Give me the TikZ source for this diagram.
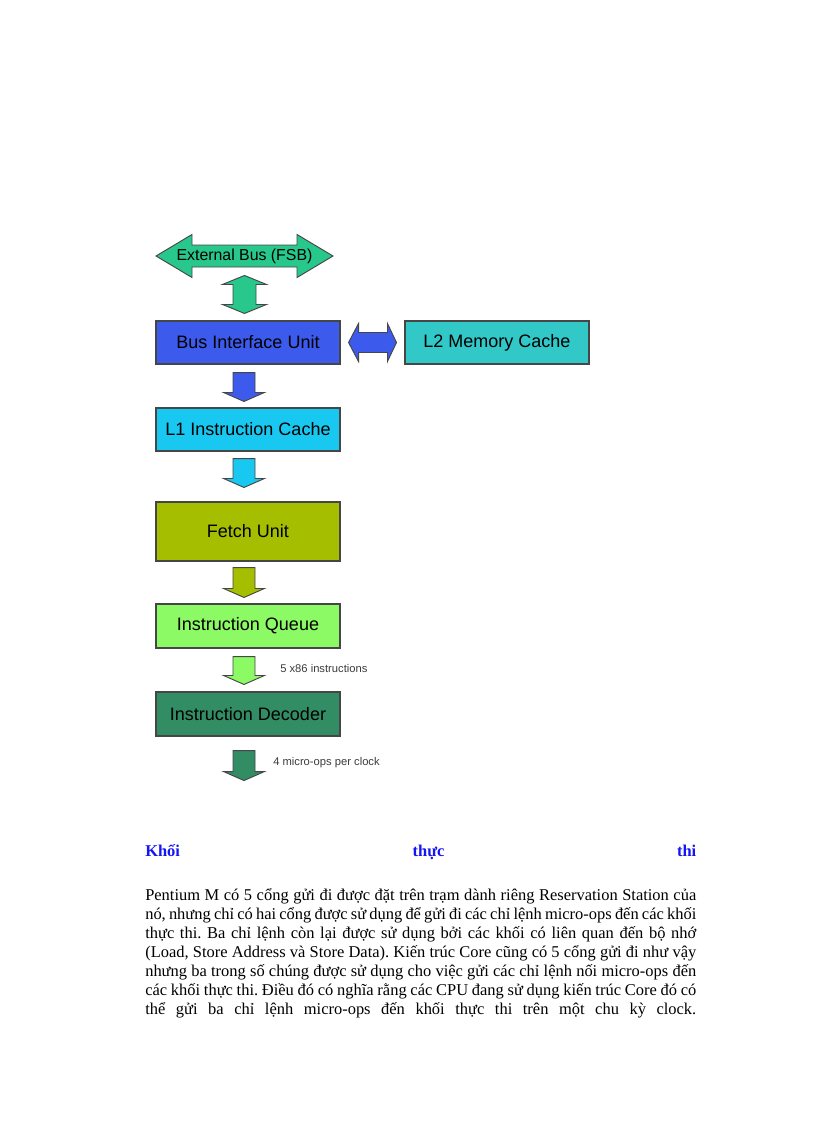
\documentclass[tikz,border=0pt]{standalone}
\usepackage{fontspec}
\setmainfont{Liberation Serif}
\newfontfamily\arialfont{Liberation Sans}
\usetikzlibrary{calc}
\frenchspacing
\definecolor{fsbgreen}{RGB}{40,200,140}
\definecolor{biublue}{RGB}{60,90,235}
\definecolor{l2teal}{RGB}{50,200,200}
\definecolor{l1cyan}{RGB}{25,200,240}
\definecolor{fetcholive}{RGB}{165,190,0}
\definecolor{iqgreen}{RGB}{140,250,100}
\definecolor{decgreen}{RGB}{50,140,100}
\definecolor{titleblue}{RGB}{20,20,245}
\definecolor{edgegray}{RGB}{70,70,70}
\definecolor{labelgray}{RGB}{60,60,60}
\def\px{0.75pt}
\tikzset{
  unitbox/.style={draw=edgegray, line width=0.8pt, minimum width=184*\px, inner sep=0pt,
    font=\arialfont\fontsize{13.5}{15}\selectfont, text=black},
  blockarrow/.style={draw=edgegray, line width=0.7pt},
  smalllabel/.style={anchor=west, inner sep=0pt, text=labelgray, font=\arialfont\fontsize{8.4}{10}\selectfont},
  textline/.style={anchor=base west, inner sep=0pt, font=\fontsize{12.35}{13.9}\selectfont}
}
% down block arrow: #1 top, #2 tip, #3 colour
\newcommand\blockdown[3]{%
  \filldraw[blockarrow, fill=#3] ($(#1)+(-11,0)$) -- ($(#1)+(11,0)$) -- ($(#2)+(11,-9)$) -- ($(#2)+(20.5,-9)$) -- (#2) -- ($(#2)+(-20.5,-9)$) -- ($(#2)+(-11,-9)$) -- cycle;}
% vertical double arrow: #1 top tip, #2 bottom tip
\newcommand\dblvert[3]{%
  \filldraw[blockarrow, fill=#3] (#1) -- ($(#1)+(22,9)$) -- ($(#1)+(11.5,9)$) -- ($(#2)+(11.5,-9)$) -- ($(#2)+(22,-9)$) -- (#2) -- ($(#2)+(-22,-9)$) -- ($(#2)+(-11.5,-9)$) -- ($(#1)+(-11.5,9)$) -- ($(#1)+(-22,9)$) -- cycle;}
% horizontal double arrow: #1 left tip, #2 right tip
\newcommand\dblhorz[3]{%
  \filldraw[blockarrow, fill=#3] (#1) -- ($(#1)+(10,-19)$) -- ($(#1)+(10,-10)$) -- ($(#2)+(-9,-10)$) -- ($(#2)+(-9,-19)$) -- (#2) -- ($(#2)+(-9,19)$) -- ($(#2)+(-9,10)$) -- ($(#1)+(10,10)$) -- ($(#1)+(10,19)$) -- cycle;}
\begin{document}
\begin{tikzpicture}[x=0.75pt,y=-0.75pt]
\useasboundingbox (0,0) rectangle (816,1123);
\fill[white] (0,0) rectangle (816,1123);

% External bus
\coordinate (fsbc) at (244.5,256);
\filldraw[blockarrow, fill=fsbgreen] ($(fsbc)+(-88.5,0)$) -- ($(fsbc)+(-52.5,-21.5)$) -- ($(fsbc)+(-52.5,-11)$) -- ($(fsbc)+(52.5,-11)$) -- ($(fsbc)+(52.5,-21.5)$) -- ($(fsbc)+(88.5,0)$) -- ($(fsbc)+(52.5,21.5)$) -- ($(fsbc)+(52.5,11)$) -- ($(fsbc)+(-52.5,11)$) -- ($(fsbc)+(-52.5,21.5)$) -- cycle;
\node[inner sep=0pt, font=\arialfont\fontsize{11.9}{13}\selectfont] (fsb) at (fsbc) {External Bus (FSB)};

% boxes
\node[unitbox, fill=biublue, minimum height=43*\px] (biu) at (248,342.5) {Bus Interface Unit};
\node[unitbox, fill=l2teal, minimum height=43*\px] (l2) at (497,342.5) {L2 Memory Cache};
\node[unitbox, fill=l1cyan, minimum height=43*\px] (l1) at (248,429.5) {L1 Instruction Cache};
\node[unitbox, fill=fetcholive, minimum height=59*\px] (fetch) at (248,531.5) {Fetch Unit};
\node[unitbox, fill=iqgreen, minimum height=44*\px] (iq) at (248,626) {Instruction Queue};
\node[unitbox, fill=decgreen, minimum height=44*\px] (dec) at (248,714) {Instruction Decoder};

% FSB <-> BIU
\coordinate (vt) at ($(biu.north)+(-3.5,-45)$);
\coordinate (vb) at ($(biu.north)+(-3.5,-7)$);
\dblvert{vt}{vb}{fsbgreen}

% BIU <-> L2
\coordinate (hl) at ($(biu.east)+(8,0)$);
\coordinate (hr) at ($(l2.west)+(-8,0)$);
\dblhorz{hl}{hr}{biublue}

% down arrows
\coordinate (a1t) at ($(biu.south)+(-4,8)$);
\coordinate (a1p) at ($(l1.north)+(-4,-6)$);
\blockdown{a1t}{a1p}{biublue}
\coordinate (a2t) at ($(l1.south)+(-4,7)$);
\coordinate (a2p) at ($(fetch.north)+(-4,-14)$);
\blockdown{a2t}{a2p}{l1cyan}
\coordinate (a3t) at ($(fetch.south)+(-4,6)$);
\coordinate (a3p) at ($(iq.north)+(-4,-6)$);
\blockdown{a3t}{a3p}{fetcholive}
\coordinate (a4t) at ($(iq.south)+(-4,8)$);
\coordinate (a4p) at ($(dec.north)+(-4,-7)$);
\blockdown{a4t}{a4p}{iqgreen}
\coordinate (a5t) at ($(dec.south)+(-4,14)$);
\coordinate (out) at ($(dec.south)+(-4,44)$);
\blockdown{a5t}{out}{decgreen}

\node[smalllabel] (lab1) at (280,668) {5 x86 instructions};
\node[smalllabel] (lab2) at (273,763) {4 micro-ops per clock};

% text
\node[textline, text=titleblue, font=\bfseries\fontsize{12.35}{13.9}\selectfont] (title) at (145,856) {\hbox to 413.25pt{Khối\hfill thực\hfill thi}};
\node[textline] (t1) at (145,900) {\hbox to 413.25pt{Pentium M có 5 cổng gửi đi được đặt trên trạm dành riêng Reservation Station của}};
\node[textline] (t2) at (145,919) {\hbox to 413.25pt{nó, nhưng chỉ có hai cổng được sử dụng để gửi đi các chỉ lệnh micro-ops đến các khối}};
\node[textline] (t3) at (145,938) {\hbox to 413.25pt{thực thi. Ba chỉ lệnh còn lại được sử dụng bởi các khối có liên quan đến bộ nhớ}};
\node[textline] (t4) at (145,957) {\hbox to 413.25pt{(Load, Store Address và Store Data). Kiến trúc Core cũng có 5 cổng gửi đi như vậy}};
\node[textline] (t5) at (145,976) {\hbox to 413.25pt{nhưng ba trong số chúng được sử dụng cho việc gửi các chỉ lệnh nối micro-ops đến}};
\node[textline] (t6) at (145,995) {\hbox to 413.25pt{các khối thực thi. Điều đó có nghĩa rằng các CPU đang sử dụng kiến trúc Core đó có}};
\node[textline] (t7) at (145,1014) {\hbox to 413.25pt{thể gửi ba chỉ lệnh micro-ops đến khối thực thi trên một chu kỳ clock.}};
\end{tikzpicture}
\end{document}
